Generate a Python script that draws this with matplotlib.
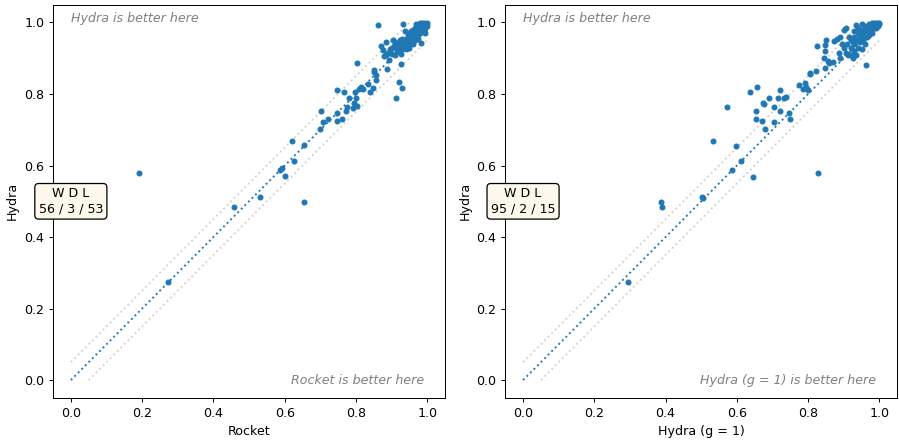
import matplotlib
matplotlib.use("Agg")
import matplotlib.pyplot as plt
import numpy as np

# per-game scores
rocket_x = [0.19, 0.274, 0.459, 0.532, 0.588, 0.592, 0.60, 0.625, 0.653, 0.621, 0.653,
            0.70, 0.703, 0.709, 0.723, 0.748, 0.762, 0.747, 0.772, 0.776, 0.793, 0.803,
            0.795, 0.781, 0.801, 0.798, 0.748, 0.767, 0.815, 0.82, 0.81, 0.834, 0.84,
            0.849, 0.857, 0.855, 0.852, 0.85, 0.803, 0.888, 0.92, 0.913, 0.93,
            0.863, 0.931, 0.937, 0.986, 0.975, 0.994, 0.983, 0.884, 0.905, 0.908, 0.877,
            0.901, 0.894, 0.88, 0.927, 0.927, 0.87,
            0.99, 1.0, 0.995, 0.99, 0.985, 0.98, 0.975, 0.97, 0.965, 0.96, 0.955, 0.95,
            0.945, 0.94, 0.935, 0.93, 0.925, 0.92, 0.915, 0.91, 0.96, 0.965, 0.97, 0.975,
            0.98, 0.985, 0.99, 0.995, 1.0, 0.95, 0.945, 0.94, 0.955, 0.96, 0.95, 0.945,
            0.93, 0.92, 0.915, 0.91, 0.9, 0.895, 0.89, 0.885, 0.97, 0.98, 0.99, 0.965,
            0.955, 0.94, 0.935, 0.93, 0.95, 0.96, 0.975]
rocket_y = [0.58, 0.274, 0.485, 0.513, 0.588, 0.592, 0.57, 0.613, 0.499, 0.67, 0.657,
            0.702, 0.753, 0.723, 0.731, 0.725, 0.729, 0.748, 0.752, 0.765, 0.762, 0.767,
            0.775, 0.79, 0.79, 0.805, 0.81, 0.806, 0.819, 0.815, 0.815, 0.829, 0.805,
            0.818, 0.84, 0.852, 0.866, 0.862, 0.888, 0.871, 0.835, 0.79, 0.818,
            0.992, 0.997, 0.976, 0.999, 0.98, 0.971, 0.943, 0.946, 0.95, 0.933, 0.923,
            0.913, 0.896, 0.905, 0.911, 0.883, 0.935,
            1.0, 1.0, 0.995, 0.99, 0.99, 0.985, 0.99, 0.975, 0.97, 0.965, 0.96, 0.955,
            0.95, 0.955, 0.945, 0.94, 0.95, 0.94, 0.935, 0.945, 0.955, 0.95, 0.96, 0.965,
            0.97, 0.975, 0.98, 0.985, 0.99, 0.94, 0.93, 0.925, 0.945, 0.98, 0.97, 0.965,
            0.955, 0.925, 0.92, 0.91, 0.93, 0.925, 0.915, 0.91, 0.995, 1.0, 0.975, 0.985,
            0.975, 0.94, 0.93, 0.925, 0.93, 0.94, 0.955]

g1_x = [0.295, 0.387, 0.39, 0.502, 0.505, 0.533, 0.572, 0.585, 0.597, 0.612, 0.644, 0.829,
        0.637, 0.656, 0.674, 0.676, 0.689, 0.654, 0.654, 0.67, 0.68, 0.703, 0.703, 0.72,
        0.715, 0.732, 0.738, 0.722, 0.745, 0.748, 0.775, 0.79, 0.785, 0.795, 0.8, 0.806,
        0.823, 0.806, 0.824, 0.846, 0.85, 0.847, 0.874, 0.88, 0.89, 0.902, 0.935, 0.905,
        0.844, 0.855, 0.86, 0.846, 0.888, 0.911, 0.963, 0.87, 0.89,
        0.92, 0.925, 0.93, 0.935, 0.94, 0.945, 0.95, 0.955, 0.96, 0.965, 0.97, 0.975,
        0.98, 0.985, 0.99, 1.0, 0.995, 0.99, 0.98, 0.97, 0.96, 0.95, 0.94, 0.93, 0.92,
        0.915, 0.91, 0.93, 0.94, 0.935, 0.925, 0.92, 0.945, 0.955, 0.965, 0.975, 0.985,
        0.995, 0.96, 0.95, 0.97, 0.98, 0.9, 0.895, 0.905, 0.93, 0.94, 0.95, 0.96, 0.97,
        0.985, 1.0, 0.99, 0.93, 0.945]
g1_y = [0.275, 0.498, 0.485, 0.513, 0.51, 0.67, 0.764, 0.588, 0.655, 0.614, 0.569, 0.579,
        0.805, 0.821, 0.776, 0.772, 0.788, 0.752, 0.729, 0.724, 0.702, 0.764, 0.723, 0.752,
        0.788, 0.79, 0.791, 0.811, 0.747, 0.73, 0.824, 0.831, 0.815, 0.82, 0.81, 0.856,
        0.864, 0.859, 0.933, 0.937, 0.951, 0.92, 0.947, 0.955, 0.96, 0.979, 0.993, 0.985,
        0.901, 0.893, 0.887, 0.873, 0.914, 0.91, 0.882, 0.89, 0.9,
        0.93, 0.945, 0.96, 0.95, 0.97, 0.96, 0.98, 0.97, 0.99, 0.985, 0.995, 0.99,
        1.0, 0.995, 1.0, 1.0, 0.998, 0.99, 0.985, 0.98, 0.975, 0.96, 0.95, 0.94, 0.95,
        0.96, 0.94, 0.92, 0.93, 0.91, 0.9, 0.91, 0.945, 0.95, 0.96, 0.975, 0.985,
        0.99, 0.94, 0.925, 0.965, 0.97, 0.93, 0.94, 0.915, 0.975, 0.985, 0.995, 0.96, 0.99,
        1.0, 0.995, 0.985, 0.95, 0.975]

panels = [
    ("Rocket", rocket_x, rocket_y, "56 / 3 / 53"),
    ("Hydra (g = 1)", g1_x, g1_y, "95 / 2 / 15"),
]

DPI = 91
fig = plt.figure(figsize=(899 / DPI, 440 / DPI), dpi=DPI)
lefts = [0.059, 0.562]

for left, (name, xs, ys, wdl) in zip(lefts, panels):
    ax = fig.add_axes([left, 0.0955, 0.436, 0.894])
    ax.plot([0, 1], [0, 1], ':', color="C0", zorder=1)
    ax.plot([0, 0.95], [0.05, 1], ':', color="lightgray", zorder=1)
    ax.plot([0.05, 1], [0, 0.95], ':', color="lightgray", zorder=1)
    ax.scatter(xs, ys, s=14, color="C0", zorder=2)
    ax.set_xlim(-0.05, 1.05)
    ax.set_ylim(-0.05, 1.05)
    ax.set_xlabel(name)
    ax.set_ylabel("Hydra")
    ax.text(0.0, 1.01, "Hydra is better here", style="italic", color="gray",
            ha="left", va="center")
    ax.text(0.99, 0.0, f"{name} is better here", style="italic", color="gray",
            ha="right", va="center")
    ax.text(0.0, 0.5, "W D L\n" + wdl, ha="center", va="center",
            bbox=dict(boxstyle="round", facecolor="#fdf8ec", edgecolor="black"),
            zorder=5, clip_on=False)

fig.savefig("out.png", dpi=DPI)
